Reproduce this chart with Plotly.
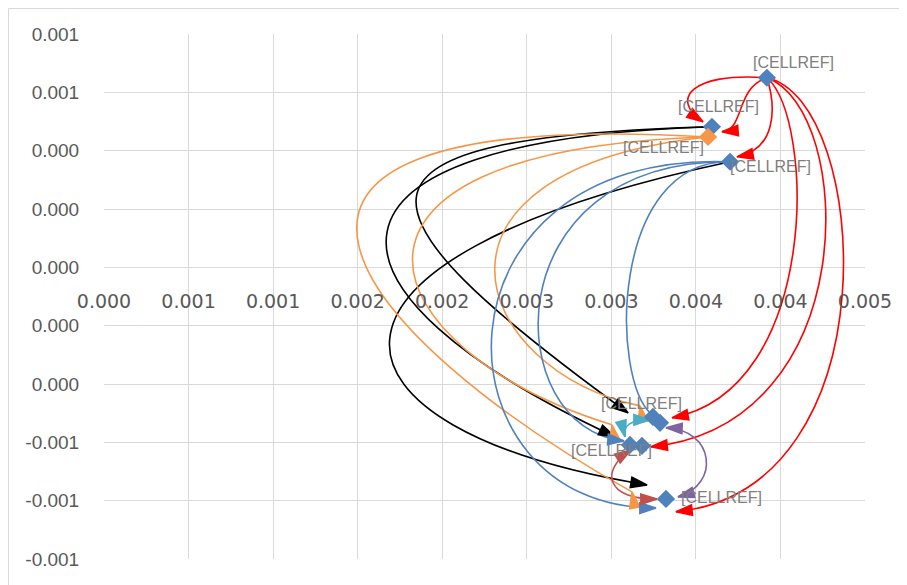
import math
import plotly.graph_objects as go

# ---------------- data ----------------
x_tick_vals = [0.0, 0.0005, 0.001, 0.0015, 0.002, 0.0025, 0.003, 0.0035, 0.004, 0.0045]
x_tick_text = ["0.000", "0.001", "0.001", "0.002", "0.002", "0.003", "0.003", "0.004", "0.004", "0.005"]
y_tick_vals = [-0.001, -0.0008, -0.0006, -0.0004, -0.0002, 0.0, 0.0002, 0.0004, 0.0006, 0.0008]
y_tick_text = ["-0.001", "-0.001", "-0.001", "0.000", "0.000", "0.000", "0.000", "0.000", "0.001", "0.001"]

# points (blue series)
blue_x = [0.003920, 0.003595, 0.003702, 0.003246, 0.003288, 0.003110, 0.003181, 0.003323]
blue_y = [0.000650, 0.000482, 0.000362, -0.000513, -0.000533, -0.000609, -0.000612, -0.000794]
# point (orange series)
orange_x = [0.003572]
orange_y = [0.000447]

label_text = "[CELLREF]"

BLUE = "#4F81BD"
ORANGE = "#F79646"
RED = "#FF0000"
BLACK = "#000000"
CYAN = "#4BACC6"
BROWN = "#C0504D"
PURPLE = "#8064A2"

# all points, by index: 0..7 blue, 8 orange
pts_x = blue_x + orange_x
pts_y = blue_y + orange_y
P_TOP, P_A, P_C, P_ORANGE = 0, 1, 2, 8

# curved connectors: colour, start, control 1, control 2, end,
# end head ("auto" = along the curve, a number = fixed angle, None = no head), head at start
connectors = [
    (RED, P_TOP, (0.003465, 0.000670), (0.003347, 0.000574), (0.003542, 0.000499), "auto", False),
    (RED, P_TOP, (0.003731, 0.000615), (0.003790, 0.000471), (0.003654, 0.000465), "auto", False),
    (RED, P_TOP, (0.003980, 0.000540), (0.003968, 0.000403), (0.003743, 0.000379), "auto", False),
    (RED, P_TOP, (0.004204, 0.000506), (0.004234, -0.000420), (0.003359, -0.000516), "auto", False),
    (RED, P_TOP, (0.004441, 0.000540), (0.004500, -0.000540), (0.003235, -0.000615), "auto", False),
    (RED, P_TOP, (0.004530, 0.000574), (0.004677, -0.000763), (0.003382, -0.000838), "auto", False),
    (BLACK, P_A, (0.001336, 0.000444), (0.001366, 0.000231), (0.003099, -0.000499), "auto", False),
    (BLACK, P_A, (0.001100, 0.000437), (0.001159, -0.000077), (0.003022, -0.000581), "auto", False),
    (BLACK, P_C, (0.000982, 0.000026), (0.001218, -0.000557), (0.003211, -0.000746), "auto", False),
    (ORANGE, P_ORANGE, (0.000272, 0.000557), (0.001514, -0.000249), (0.003122, -0.000770), -10, False),
    (ORANGE, P_ORANGE, (0.001100, 0.000403), (0.001573, -0.000283), (0.003004, -0.000540), -10, False),
    (ORANGE, P_ORANGE, (0.001750, 0.000334), (0.002164, -0.000351), (0.003170, -0.000475), -10, False),
    (BLUE, P_C, (0.001869, 0.000403), (0.001928, -0.000831), (0.003264, -0.000825), "auto", False),
    (BLUE, P_C, (0.002283, 0.000369), (0.002342, -0.000557), (0.003075, -0.000595), "auto", False),
    (BLUE, P_C, (0.002992, 0.000369), (0.002992, -0.000386), (0.003240, -0.000505), None, False),
    (CYAN, (0.003081, -0.000581), (0.003063, -0.000540), (0.003122, -0.000523), (0.003229, -0.000523), "auto", True),
    (BROWN, (0.003116, -0.000626), (0.002933, -0.000694), (0.002963, -0.000797), (0.003270, -0.000794), "auto", True),
    (PURPLE, (0.003394, -0.000787), (0.003643, -0.000746), (0.003613, -0.000557), (0.003323, -0.000550), "auto", True),
]

# data labels: point index and pixel offset of the label
labels = [(0, 27, -15), (1, 7, -20), (8, -45, 11), (2, 40, 5), (3, -11, -13), (5, -18, 6), (7, 56, -1)]

# ---------------- layout geometry ----------------
# the page body adds an 8px margin, so the figure is 8px smaller than the window
W, H = 899, 577
ML, MR, MT, MB = 96, 42, 26, 26
XR = (0.0, 0.0045)
YR = (-0.001, 0.0008)
PW, PH = W - ML - MR, H - MT - MB
sx = PW / (XR[1] - XR[0])
sy = PH / (YR[1] - YR[0])


def screen_angle(frm, to):
    dx = (to[0] - frm[0]) * sx
    dy = -(to[1] - frm[1]) * sy
    return math.degrees(math.atan2(dx, -dy))


def f(v):
    return f"{v:.8f}"


shapes = []
head_x, head_y, head_ang, head_col = [], [], [], []
for col, start, c1, c2, end, head, both in connectors:
    if isinstance(start, int):
        s = (pts_x[start], pts_y[start])
    else:
        s = start
    path = f"M {f(s[0])},{f(s[1])} C {f(c1[0])},{f(c1[1])} {f(c2[0])},{f(c2[1])} {f(end[0])},{f(end[1])}"
    shapes.append(dict(type="path", path=path, xref="x", yref="y",
                       line=dict(color=col, width=1.6), layer="between"))
    if head is not None:
        head_x.append(end[0]); head_y.append(end[1]); head_col.append(col)
        head_ang.append(screen_angle(c2, end) if head == "auto" else head)
    if both:
        head_x.append(s[0]); head_y.append(s[1]); head_col.append(col)
        head_ang.append(screen_angle(c1, s))

# chart border
shapes.append(dict(type="rect", xref="paper", yref="paper",
                   x0=(0.5 - ML) / PW, x1=(W + 20 - ML) / PW,
                   y0=-(MB + 20) / PH, y1=1 + (MT - 0.5) / PH,
                   line=dict(color="#D9D9D9", width=1), fillcolor="rgba(0,0,0,0)", layer="below"))

fig = go.Figure()

fig.add_trace(go.Scatter(
    x=head_x, y=head_y, mode="markers", hoverinfo="skip", showlegend=False,
    marker=dict(symbol="arrow", size=17, angle=head_ang, angleref="up", color=head_col,
                line=dict(color=head_col, width=1.5)),
))

fig.add_trace(go.Scatter(
    x=blue_x, y=blue_y, mode="markers", name="Series 1", showlegend=False,
    marker=dict(symbol="diamond", size=14, color=BLUE, line=dict(width=0)),
))
fig.add_trace(go.Scatter(
    x=orange_x, y=orange_y, mode="markers", name="Series 2", showlegend=False,
    marker=dict(symbol="diamond", size=14, color=ORANGE, line=dict(width=0)),
))

annotations = []
for idx, dxp, dyp in labels:
    annotations.append(dict(x=pts_x[idx], y=pts_y[idx], xref="x", yref="y", text=label_text,
                            showarrow=False, xshift=dxp, yshift=-dyp,
                            font=dict(family="Liberation Sans, Arial, sans-serif", size=16, color="#7F7F7F")))

fig.update_layout(
    width=W, height=H, autosize=False,
    margin=dict(l=ML, r=MR, t=MT, b=MB),
    paper_bgcolor="white", plot_bgcolor="white",
    shapes=shapes, annotations=annotations, showlegend=False,
    xaxis=dict(range=list(XR), tickvals=x_tick_vals, ticktext=x_tick_text,
               showgrid=True, gridcolor="#D9D9D9", gridwidth=1, zeroline=False, showline=False,
               anchor="free", position=(0 - YR[0]) / (YR[1] - YR[0]),
               ticks="outside", ticklen=17, tickcolor="rgba(0,0,0,0)",
               tickfont=dict(family="DejaVu Sans, sans-serif", size=19, color="#595959")),
    yaxis=dict(range=list(YR), tickvals=y_tick_vals, ticktext=y_tick_text,
               showgrid=True, gridcolor="#D9D9D9", gridwidth=1, zeroline=False, showline=False,
               ticks="outside", ticklen=20, tickcolor="rgba(0,0,0,0)",
               tickfont=dict(family="Liberation Sans, Arial, sans-serif", size=19, color="#595959")),
)

fig.write_html("out.html")
